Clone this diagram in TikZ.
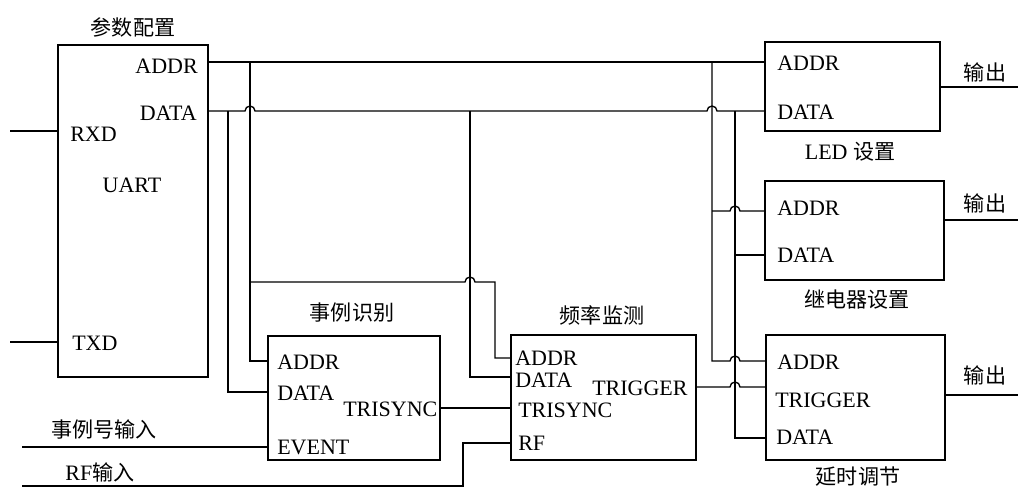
\documentclass[tikz,border=0pt]{standalone}
\usepackage{fontspec}
\setmainfont{Liberation Serif}
\newfontfamily\cjk{Noto Sans CJK SC}
\begin{document}
\begin{tikzpicture}[x=0.75pt,y=-0.75pt,
  box/.style={draw, line width=1.2pt, inner sep=0pt},
  lbl/.style={inner sep=0pt, font=\fontsize{16.5}{19}\selectfont},
  portw/.style={lbl, anchor=west},
  porte/.style={lbl, anchor=east},
  title/.style={inner sep=0pt, font=\fontsize{15.8}{18}\selectfont\cjk},
  wire/.style={line width=1pt}]
\useasboundingbox (0,0) rectangle (1018,488);

% boxes
\node[box, minimum width=112.5pt, minimum height=249pt] (uart) at (133,211) {};
\node[box, minimum width=131.25pt, minimum height=66.75pt] (led) at (852.5,86.5) {};
\node[box, minimum width=134.25pt, minimum height=74.25pt] (relay) at (854.5,230.5) {};
\node[box, minimum width=134.25pt, minimum height=93.75pt] (delay) at (855.5,397.5) {};
\node[box, minimum width=129pt, minimum height=93pt] (event) at (354,398) {};
\node[box, minimum width=138.75pt, minimum height=93.75pt] (freq) at (603.5,397.5) {};

% titles
\node[title] (t-uart) at (133,27) {参数配置};
\node[title] (t-led) at (850,152) {\fontsize{16.5}{19}\selectfont\rmfamily LED \fontsize{15.8}{18}\selectfont\cjk 设置};
\node[title] (t-relay) at (857,300) {继电器设置};
\node[title] (t-delay) at (858,477) {延时调节};
\node[title] (t-event) at (352,313) {事例识别};
\node[title] (t-freq) at (602,315) {频率监测};
\node[title] (t-evin) at (104,429) {事例号输入};
\node[title] (t-rfin) at (100,472) {\fontsize{16.5}{19}\selectfont\rmfamily RF\fontsize{15.8}{18}\selectfont\cjk 输入};
\node[title] (t-out1) at (985,72) {输出};
\node[title] (t-out2) at (985,203) {输出};
\node[title] (t-out3) at (985,375) {输出};

% port labels
\node[porte] (u-addr-l) at (198,66) {ADDR};
\node[porte] (u-data-l) at (197,113) {DATA};
\node[portw] (u-rxd-l) at (70,134) {RXD};
\node[lbl] (u-uart-l) at (132,185) {UART};
\node[portw] (u-txd-l) at (72,343) {TXD};

\node[portw] (l-addr-l) at (777,63) {ADDR};
\node[portw] (l-data-l) at (777,112) {DATA};
\node[portw] (r-addr-l) at (777,208) {ADDR};
\node[portw] (r-data-l) at (777,255) {DATA};
\node[portw] (d-addr-l) at (777,362) {ADDR};
\node[portw] (d-trig-l) at (775,400) {TRIGGER};
\node[portw] (d-data-l) at (776,437) {DATA};

\node[portw] (e-addr-l) at (277,362) {ADDR};
\node[portw] (e-data-l) at (277,393) {DATA};
\node[portw] (e-tri-l) at (343,409) {TRISYNC};
\node[portw] (e-event-l) at (277,447) {EVENT};

\node[portw] (f-addr-l) at (515,358) {ADDR};
\node[portw] (f-data-l) at (515,380) {DATA};
\node[portw] (f-trig-l) at (592,388) {TRIGGER};
\node[portw] (f-tri-l) at (518,410) {TRISYNC};
\node[portw] (f-rf-l) at (518,443) {RF};

% port coordinates
\coordinate (uart-addr) at (208,62);
\coordinate (uart-data) at (208,111);
\coordinate (uart-rxd) at (58,131);
\coordinate (uart-txd) at (58,342);
\coordinate (rxd-in) at (10,131);
\coordinate (txd-in) at (10,342);
\coordinate (led-addr) at (765,62);
\coordinate (led-data) at (765,111);
\coordinate (led-out) at (940,87);
\coordinate (led-end) at (1018,87);
\coordinate (rl-addr) at (765,211);
\coordinate (rl-data) at (765,255);
\coordinate (rl-out) at (944,220);
\coordinate (rl-end) at (1018,220);
\coordinate (dl-addr) at (766,361);
\coordinate (dl-trig) at (766,387);
\coordinate (dl-data) at (766,438);
\coordinate (dl-out) at (945,395);
\coordinate (dl-end) at (1018,395);
\coordinate (ev-addr) at (268,361);
\coordinate (ev-data) at (268,392);
\coordinate (ev-tri) at (440,408);
\coordinate (ev-event) at (268,447);
\coordinate (ev-in) at (22,447);
\coordinate (fr-addr) at (511,358);
\coordinate (fr-data) at (511,377);
\coordinate (fr-tri) at (511,408);
\coordinate (fr-rf) at (511,443);
\coordinate (fr-trig) at (696,387);
\coordinate (rf-in) at (22,486);

% wires
\draw[wire] (rxd-in) -- (uart-rxd);
\draw[wire] (txd-in) -- (uart-txd);
\draw[wire] (uart-addr) -- (led-addr);
\draw[wire] (250,62) -- (250,361) -- (ev-addr);
\draw[wire] (250,282) -- (465,282) arc[start angle=180,end angle=0,radius=3.75pt] -- (495,282) -- (495,358) -- (fr-addr);
\draw[wire] (uart-data) -- (245,111) arc[start angle=180,end angle=0,radius=3.75pt] -- (707,111) arc[start angle=180,end angle=0,radius=3.75pt] -- (led-data);
\draw[wire] (228,111) -- (228,392) -- (ev-data);
\draw[wire] (470,111) -- (470,377) -- (fr-data);
\draw[wire] (712,62) -- (712,361) -- (730,361) arc[start angle=180,end angle=0,radius=3.75pt] -- (dl-addr);
\draw[wire] (712,211) -- (730,211) arc[start angle=180,end angle=0,radius=3.75pt] -- (rl-addr);
\draw[wire] (735,111) -- (735,438) -- (dl-data);
\draw[wire] (735,255) -- (rl-data);
\draw[wire] (fr-trig) -- (730,387) arc[start angle=180,end angle=0,radius=3.75pt] -- (dl-trig);
\draw[wire] (ev-tri) -- (fr-tri);
\draw[wire] (ev-in) -- (ev-event);
\draw[wire] (rf-in) -- (463,486) -- (463,443) -- (fr-rf);
\draw[wire] (led-out) -- (led-end);
\draw[wire] (rl-out) -- (rl-end);
\draw[wire] (dl-out) -- (dl-end);
\end{tikzpicture}
\end{document}
